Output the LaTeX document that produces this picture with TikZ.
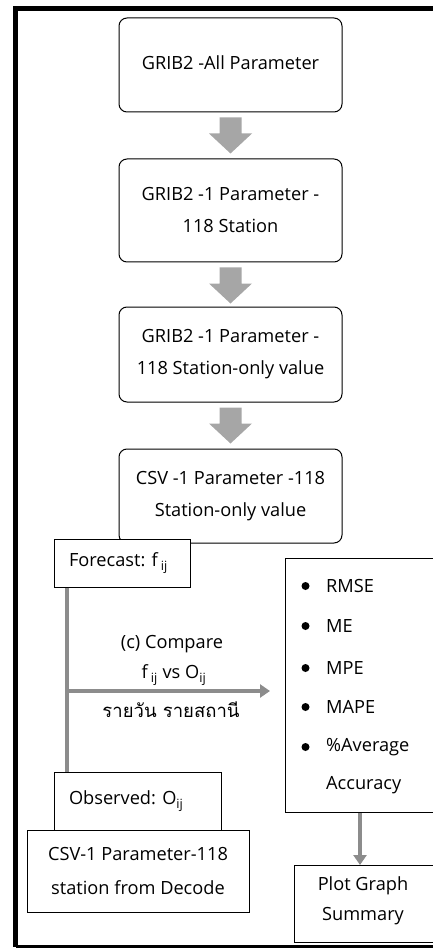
\documentclass[tikz,border=0pt]{standalone}
\usepackage{fontspec}
\setmainfont{Open Sans}
\newfontfamily\thaifont[Script=Thai]{Loma}
\usetikzlibrary{arrows.meta,calc}
\definecolor{agray}{RGB}{166,166,166}
\definecolor{lgray}{RGB}{140,140,140}
\tikzset{
  rbox/.style={draw=black, line width=1pt, rounded corners=8pt, fill=white,
    minimum width=223pt, align=center, inner sep=0pt,
    font=\fontsize{18.2}{32}\selectfont},
  sbox/.style={draw=black, line width=1pt, fill=white, inner sep=0pt,
    font=\fontsize{18.2}{34}\selectfont},
  txt/.style={inner sep=0pt, font=\fontsize{18.2}{32}\selectfont},
  conn/.style={draw=lgray, line width=3.5pt},
  tip/.style={-{Triangle[length=10pt,width=13pt]}},
  blk/.style={fill=agray}
}
\newcommand\blockarrow[1]{%
  \fill[blk] ($(#1)+(-11,5)$) -- ++(22,0) -- ++(0,16) -- ++(10.5,0)
     -- ++(-21.5,20) -- ++(-21.5,-20) -- ++(10.5,0) -- cycle;}
\begin{document}
\begin{tikzpicture}[x=1pt,y=-1pt]
\useasboundingbox (0,0) rectangle (433,949);
\clip (0,0) rectangle (433,949);
% frame
\draw[line width=4.5pt] (450,8.5) -- (15.5,8.5) -- (15.5,947);
\draw[line width=3pt] (15.5,946.5) -- (450,946.5);

% main chain
\node[rbox, minimum height=94pt] (b1) at (230.5,65) {};
\node[txt] (t1) at (230.5,63) {GRIB2 -All Parameter};
\node[rbox, minimum height=103pt] (b2) at (230.5,210.5) {GRIB2 -1 Parameter -\\118 Station};
\node[rbox, minimum height=95pt] (b3) at (230.5,354.5) {GRIB2 -1 Parameter -\\118 Station-only value};
\node[rbox, minimum height=94pt] (b4) at (230.5,496) {CSV -1 Parameter -118\\Station-only value};
\blockarrow{b1.south}
\blockarrow{b2.south}
\blockarrow{b3.south}

% forecast / observed
\node[sbox, minimum width=136pt, minimum height=48pt, inner xsep=15pt] (fc) at (122,563)
  {\makebox[106pt][l]{Forecast: f\,\textsubscript{ij}}};
\node[sbox, minimum width=222pt, minimum height=82pt, align=center] (csv) at (138,871)
  {CSV-1 Parameter-118\\station from Decode};
\node[sbox, minimum width=167pt, minimum height=58pt, inner xsep=15pt] (ob) at (137.5,801)
  {\makebox[137pt][l]{Observed: O\textsubscript{ij}}};

% metrics box
\node[sbox, minimum width=160pt, minimum height=254pt, anchor=north west] (mt) at (285,558) {};
\foreach \t/\y [count=\i] in {RMSE/586, ME/626, MPE/668, MAPE/707, \%Average/747} {
  \fill (305.5,\y) circle (4pt);
  \node[txt, anchor=west] (m\i) at (326,\y) {\t};
}
\node[txt, anchor=west] (m6) at (326,785) {Accuracy};

% plot box
\node[sbox, minimum width=150pt, minimum height=77pt, anchor=north west] (pl) at (294,865) {};
\node[txt, align=center, font=\fontsize{18.2}{30}\selectfont] (plt) at (363,901) {Plot Graph\\Summary};

% connectors
\coordinate (vx) at (67,0);
\coordinate (jn) at (67,691);
\coordinate (ae) at (270,691);
\coordinate (ax) at (360,0);
\draw[conn] (fc.south -| vx) -- (ob.north -| vx);
\draw[conn, tip] (jn) -- (ae);
\draw[conn, tip] (mt.south -| ax) -- (pl.north -| ax);

% labels
\node[txt] (l1) at (172,644) {(c) Compare};
\node[txt] (l2) at (174,675) {f\,\textsubscript{ij} vs O\textsubscript{ij}};
\node[txt] (l3) at (171,710) {\thaifont\fontsize{18.5}{20}\selectfont รายวัน รายสถานี};
\end{tikzpicture}
\end{document}
